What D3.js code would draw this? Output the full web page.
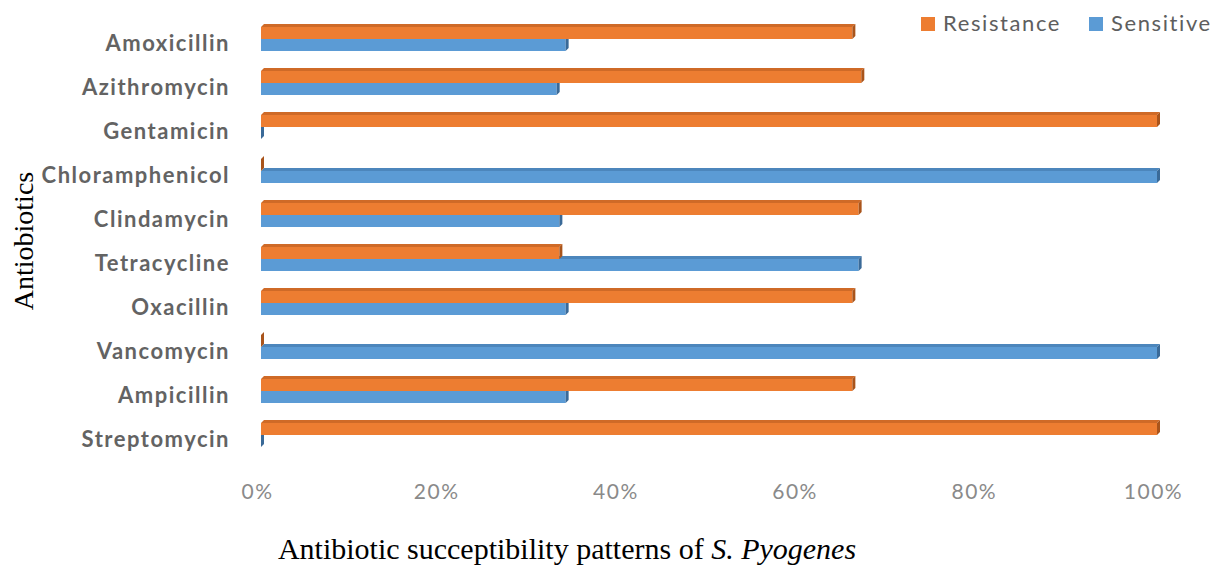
<!DOCTYPE html>
<html>
<head>
<meta charset="utf-8">
<script src="https://cdn.jsdelivr.net/npm/d3@7"></script>
<style>
  html, body { margin: 0; padding: 0; background: #fff; }
  svg { display: block; }
</style>
</head>
<body>
<svg id="chart" width="1228" height="567"></svg>
<script>
const categories = ["Amoxicillin","Azithromycin","Gentamicin","Chloramphenicol","Clindamycin","Tetracycline","Oxacillin","Vancomycin","Ampicillin","Streptomycin"];
const resistance = [66, 67, 100, 0, 66.7, 33.3, 66, 0, 66, 100];
const sensitive  = [34, 33, 0, 100, 33.3, 66.7, 34, 100, 34, 0];
const seriesNames = ["Resistance", "Sensitive"];
const tickValues = [0, 20, 40, 60, 80, 100];

const svg = d3.select("#chart");
const x = d3.scaleLinear().domain([0, 100]).range([261, 1157]);
const y = d3.scaleBand().domain(categories).range([17, 457]).padding(0);

const colors = {
  Resistance: { front: "#ED7D31", top: "#CF6A27", side: "#A9541B" },
  Sensitive:  { front: "#5B9BD5", top: "#4C86BC", side: "#3A6A98" }
};
const barH = 12, dx = 3, dy = 3;

function drawBar(g, v, yTop, c) {
  const x0 = x(0), x1 = x(v), yB = yTop + barH;
  if (x1 > x0) {
    g.append("polygon")
      .attr("points", [[x0, yTop], [x0 + dx, yTop - dy], [x1 + dx, yTop - dy], [x1, yTop]].map(p => p.join(",")).join(" "))
      .attr("fill", c.top);
    g.append("rect").attr("x", x0).attr("y", yTop).attr("width", x1 - x0).attr("height", barH).attr("fill", c.front);
  }
  g.append("polygon")
    .attr("points", [[x1, yTop], [x1 + dx, yTop - dy], [x1 + dx, yB - dy], [x1, yB]].map(p => p.join(",")).join(" "))
    .attr("fill", c.side);
}

const bars = svg.append("g");
categories.forEach((cat, i) => {
  const c = y(cat) + y.bandwidth() / 2;
  const g = bars.append("g");
  drawBar(g, sensitive[i], c, colors.Sensitive);
  drawBar(g, resistance[i], c - barH, colors.Resistance);
});

// category labels
svg.append("g").selectAll("text").data(categories).join("text")
  .attr("x", 230)
  .attr("y", d => y(d) + y.bandwidth() / 2 + 3)
  .attr("text-anchor", "end")
  .attr("dominant-baseline", "central")
  .attr("font-family", "Lato, 'Open Sans', sans-serif")
  .attr("font-weight", "bold")
  .attr("font-size", 22)
  .attr("letter-spacing", 1.5)
  .attr("fill", "#636363")
  .text(d => d);

// x axis
const xAxis = d3.axisBottom(x).tickValues(tickValues).tickSize(0).tickFormat(d => d + "%");
const ax = svg.append("g").attr("transform", "translate(-4,481)").call(xAxis);
ax.select(".domain").remove();
ax.selectAll("text")
  .attr("font-family", "Lato, 'Open Sans', sans-serif")
  .attr("font-size", 21)
  .attr("letter-spacing", 1.5)
  .attr("fill", "#8a8a8a");

// legend
const legendX = [921, 1089];
seriesNames.forEach((s, i) => {
  svg.append("rect").attr("x", legendX[i]).attr("y", 17).attr("width", 14).attr("height", 14).attr("fill", colors[s].front);
  svg.append("text")
    .attr("x", legendX[i] + 22).attr("y", 31)
    .attr("font-family", "Lato, 'Open Sans', sans-serif")
    .attr("font-size", 22)
    .attr("letter-spacing", 1.6)
    .attr("fill", "#5e5e5e")
    .text(s);
});

// axis titles
const t = svg.append("text")
  .attr("x", 567).attr("y", 559)
  .attr("text-anchor", "middle")
  .attr("font-family", "'Liberation Serif', 'DejaVu Serif', serif")
  .attr("font-size", 30)
  .attr("fill", "#000");
t.append("tspan").text("Antibiotic succeptibility patterns of ");
t.append("tspan").attr("font-style", "italic").text("S. Pyogenes");

svg.append("text")
  .attr("transform", "translate(33,241) rotate(-90)")
  .attr("text-anchor", "middle")
  .attr("font-family", "'Liberation Serif', 'DejaVu Serif', serif")
  .attr("font-size", 28)
  .attr("fill", "#000")
  .text("Antiobiotics");
</script>
</body>
</html>
